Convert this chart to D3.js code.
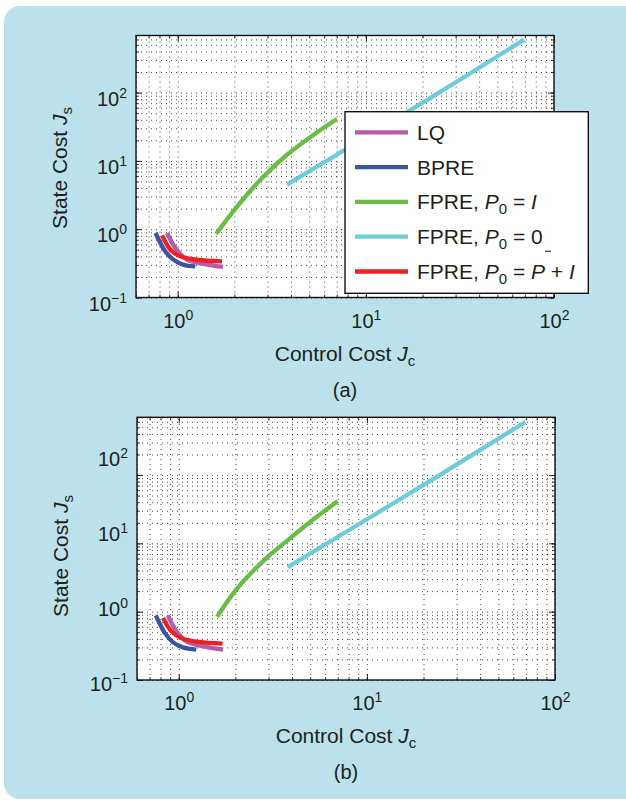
<!DOCTYPE html>
<html>
<head>
<meta charset="utf-8">
<script src="https://cdn.jsdelivr.net/npm/d3@7"></script>
<style>
body { margin: 0; background: #fff; }
svg { display: block; font-family: "Liberation Sans", Arial, Helvetica, sans-serif; }
</style>
</head>
<body>
<svg></svg>
<script>
const [svgWidth, svgHeight] = [626, 804];

// data, [Jc, Js]
// panel (a)
const lqA = [[0.879, 0.88], [0.972, 0.53], [1.12, 0.357], [1.375, 0.31], [1.74, 0.28]];
const bpreA = [[0.762, 0.88], [0.86, 0.47], [0.95, 0.357], [1.076, 0.30], [1.24, 0.285]];
const fpreIA = [[1.6, 0.85], [2.07, 2.16], [2.86, 5.93], [3.81, 12.3], [5.28, 24.2], [7.02, 41]];
const fpreZeroA = [[3.81, 4.48], [21.5, 80], [69.4, 595]];
const fpreBarA = [[0.826, 0.81], [0.915, 0.50], [1.034, 0.40], [1.27, 0.357], [1.72, 0.338]];
// panel (b)
const lqB = [[0.877, 0.88], [0.972, 0.515], [1.1, 0.367], [1.35, 0.31], [1.72, 0.278]];
const bpreB = [[0.755, 0.88], [0.843, 0.49], [0.933, 0.356], [1.054, 0.30], [1.24, 0.278]];
const fpreIB = [[1.6, 0.84], [2.02, 2.1], [2.8, 5.45], [3.73, 10.7], [5.17, 22.2], [7.0, 41.2]];
const fpreZeroB = [[3.8, 4.5], [21.5, 80.8], [69.6, 598]];
const fpreBarB = [[0.826, 0.81], [0.915, 0.515], [1.033, 0.41], [1.29, 0.36], [1.71, 0.34]];

const seriesColors = ["#b65ba8", "#3b55a3", "#69bd45", "#6dcbdc", "#ed2024"];
// legend labels, split into plain / italic / subscript parts
const legendLabels = [
    [{ t: "LQ" }],
    [{ t: "BPRE" }],
    [{ t: "FPRE, " }, { t: "P", i: 1 }, { t: "0", sub: 1 }, { t: " = " }, { t: "I", i: 1 }],
    [{ t: "FPRE, " }, { t: "P", i: 1 }, { t: "0", sub: 1 }, { t: " = 0" }],
    [{ t: "FPRE, " }, { t: "P", i: 1 }, { t: "0", sub: 1 }, { t: " = " }, { t: "P", i: 1 }, { t: " + " }, { t: "I", i: 1 }]
];
const xMajorTicks = [1, 10, 100];
const yMajorTicks = [0.1, 1, 10, 100];
const xDomain = [0.6, 100];

const textColor = "#231f20";

const svg = d3.select("svg")
    .attr("width", svgWidth)
    .attr("height", svgHeight);

svg.append("rect").attr("width", svgWidth).attr("height", svgHeight).attr("fill", "#fff");
svg.append("rect")
    .attr("x", 4).attr("y", 6)
    .attr("width", 700).attr("height", 793)
    .attr("rx", 16)
    .attr("fill", "#bbe2ea");

const panels = [
    {
        series: [lqA, bpreA, fpreIA, fpreZeroA, fpreBarA],
        left: 136, right: 554, top: 35.5, bottom: 297.5, yMax: 685,
        labelRange: [297.5, 92.5],
        yTitle: [67, 168], xTitleY: 361, caption: "(a)", captionY: 397,
        legend: true
    },
    {
        series: [lqB, bpreB, fpreIB, fpreZeroB, fpreBarB],
        left: 137, right: 555, top: 417.3, bottom: 680, yMax: 700,
        labelRange: [678, 453],
        yTitle: [68, 556], xTitleY: 743, caption: "(b)", captionY: 779,
        legend: false
    }
];

function powerLabel(sel, d) {
    const e = Math.round(Math.log10(d));
    sel.text(null);
    sel.append("tspan").text("10");
    sel.append("tspan")
        .attr("dy", -8)
        .attr("font-size", 14)
        .text(e < 0 ? "\u2212" + (-e) : e);
}

function richText(sel, parts, subSize) {
    let base = 0;
    parts.forEach(p => {
        const ts = sel.append("tspan").text(p.t);
        if (p.i) ts.attr("font-style", "italic");
        if (p.sub) ts.attr("font-size", subSize);
        const target = p.sub ? 5 : 0;
        if (target !== base) ts.attr("dy", target - base);
        base = target;
    });
}

panels.forEach(p => {
    const x = d3.scaleLog().domain(xDomain).range([p.left, p.right]);
    const y = d3.scaleLog().domain([0.1, p.yMax]).range([p.bottom, p.top]);
    const yLabel = d3.scaleLog().domain([0.1, 100]).range(p.labelRange);
    const w = p.right - p.left, h = p.bottom - p.top;

    const g = svg.append("g");
    g.append("rect")
        .attr("x", p.left).attr("y", p.top)
        .attr("width", w).attr("height", h)
        .attr("fill", "#fff");

    // dotted grid (major and minor)
    g.append("g")
        .attr("transform", `translate(0,${p.bottom})`)
        .call(d3.axisBottom(x).tickValues(x.ticks()).tickSize(-h).tickFormat(""))
        .call(s => s.select(".domain").remove())
        .selectAll("line")
        .attr("stroke", "#000").attr("stroke-width", 0.9)
        .attr("stroke-dasharray", "1,4").attr("opacity", 0.8);
    g.append("g")
        .attr("transform", `translate(${p.left},0)`)
        .call(d3.axisLeft(y).tickValues(y.ticks()).tickSize(-w).tickFormat(""))
        .call(s => s.select(".domain").remove())
        .selectAll("line")
        .attr("stroke", "#000").attr("stroke-width", 0.9)
        .attr("stroke-dasharray", "1,4").attr("opacity", 0.8);

    // curves
    const line = d3.line()
        .x(d => x(d[0]))
        .y(d => y(d[1]))
        .curve(d3.curveCatmullRom.alpha(0.5));
    p.series.forEach((s, i) => {
        g.append("path")
            .datum(s)
            .attr("fill", "none")
            .attr("stroke", seriesColors[i])
            .attr("stroke-width", 4.3)
            .attr("d", line);
    });

    // inward ticks on all four sides
    const tickAxes = [
        [d3.axisBottom(x), `translate(0,${p.bottom})`, xMajorTicks, x.ticks()],
        [d3.axisTop(x), `translate(0,${p.top})`, xMajorTicks, x.ticks()],
        [d3.axisLeft(y), `translate(${p.left},0)`, yMajorTicks, y.ticks()],
        [d3.axisRight(y), `translate(${p.right},0)`, yMajorTicks, y.ticks()]
    ];
    tickAxes.forEach(([axis, tr, major, minor]) => {
        g.append("g").attr("transform", tr)
            .call(axis.tickValues(minor).tickSize(-3).tickFormat(""))
            .call(s => s.select(".domain").remove())
            .selectAll("line").attr("stroke", "#111").attr("stroke-width", 0.8);
        g.append("g").attr("transform", tr)
            .call(axis.tickValues(major).tickSize(-6).tickFormat(""))
            .call(s => s.select(".domain").remove())
            .selectAll("line").attr("stroke", "#111").attr("stroke-width", 0.9);
    });

    // frame
    g.append("rect")
        .attr("x", p.left).attr("y", p.top)
        .attr("width", w).attr("height", h)
        .attr("fill", "none").attr("stroke", "#111").attr("stroke-width", 1.4);

    // tick labels
    g.append("g")
        .attr("transform", `translate(0,${p.bottom})`)
        .call(d3.axisBottom(x).tickValues(xMajorTicks).tickSize(0).tickPadding(0))
        .call(s => s.select(".domain").remove())
        .attr("font-family", null).attr("font-size", 20)
        .selectAll("text")
        .attr("y", 30).attr("dy", null)
        .attr("fill", textColor)
        .each(function (d) { powerLabel(d3.select(this), d); });

    g.append("g")
        .attr("transform", `translate(${p.left},0)`)
        .call(d3.axisLeft(yLabel).tickValues(yMajorTicks).tickSize(0).tickPadding(0))
        .call(s => s.select(".domain").remove())
        .attr("font-family", null).attr("font-size", 20)
        .selectAll("text")
        .attr("x", -9).attr("dy", 12.5)
        .attr("fill", textColor)
        .each(function (d) { powerLabel(d3.select(this), d); });

    // axis titles
    g.append("text")
        .attr("x", (p.left + p.right) / 2).attr("y", p.xTitleY)
        .attr("text-anchor", "middle").attr("font-size", 21).attr("fill", textColor)
        .call(s => richText(s, [{ t: "Control Cost " }, { t: "J", i: 1 }, { t: "c", sub: 1 }], 15));
    g.append("text")
        .attr("transform", `translate(${p.yTitle[0]},${p.yTitle[1]}) rotate(-90)`)
        .attr("text-anchor", "middle").attr("font-size", 21).attr("fill", textColor)
        .call(s => richText(s, [{ t: "State Cost " }, { t: "J", i: 1 }, { t: "s", sub: 1 }], 15));
    g.append("text")
        .attr("x", (p.left + p.right) / 2).attr("y", p.captionY)
        .attr("text-anchor", "middle").attr("font-size", 20).attr("fill", textColor)
        .text(p.caption);

    if (p.legend) {
        const lg = g.append("g").attr("transform", "translate(345,111.7)");
        lg.append("rect")
            .attr("width", 243.3).attr("height", 181.6)
            .attr("fill", "#fff").attr("stroke", "#111").attr("stroke-width", 1.4);
        legendLabels.forEach((parts, i) => {
            const ry = 20.6 + i * 34.8;
            lg.append("line")
                .attr("x1", 10).attr("x2", 63).attr("y1", ry).attr("y2", ry)
                .attr("stroke", seriesColors[i]).attr("stroke-width", 4.3);
            lg.append("text")
                .attr("x", 72).attr("y", ry + 7.5)
                .attr("font-size", 21).attr("fill", textColor)
                .attr("xml:space", "preserve")
                .call(s => richText(s, parts, 15));
        });
        // the bar of P-bar, as printed (sitting above the last entry)
        lg.append("line")
            .attr("x1", 200).attr("x2", 206).attr("y1", 139.5).attr("y2", 139.5)
            .attr("stroke", textColor).attr("stroke-width", 1.1);
    }
});
</script>
</body>
</html>
